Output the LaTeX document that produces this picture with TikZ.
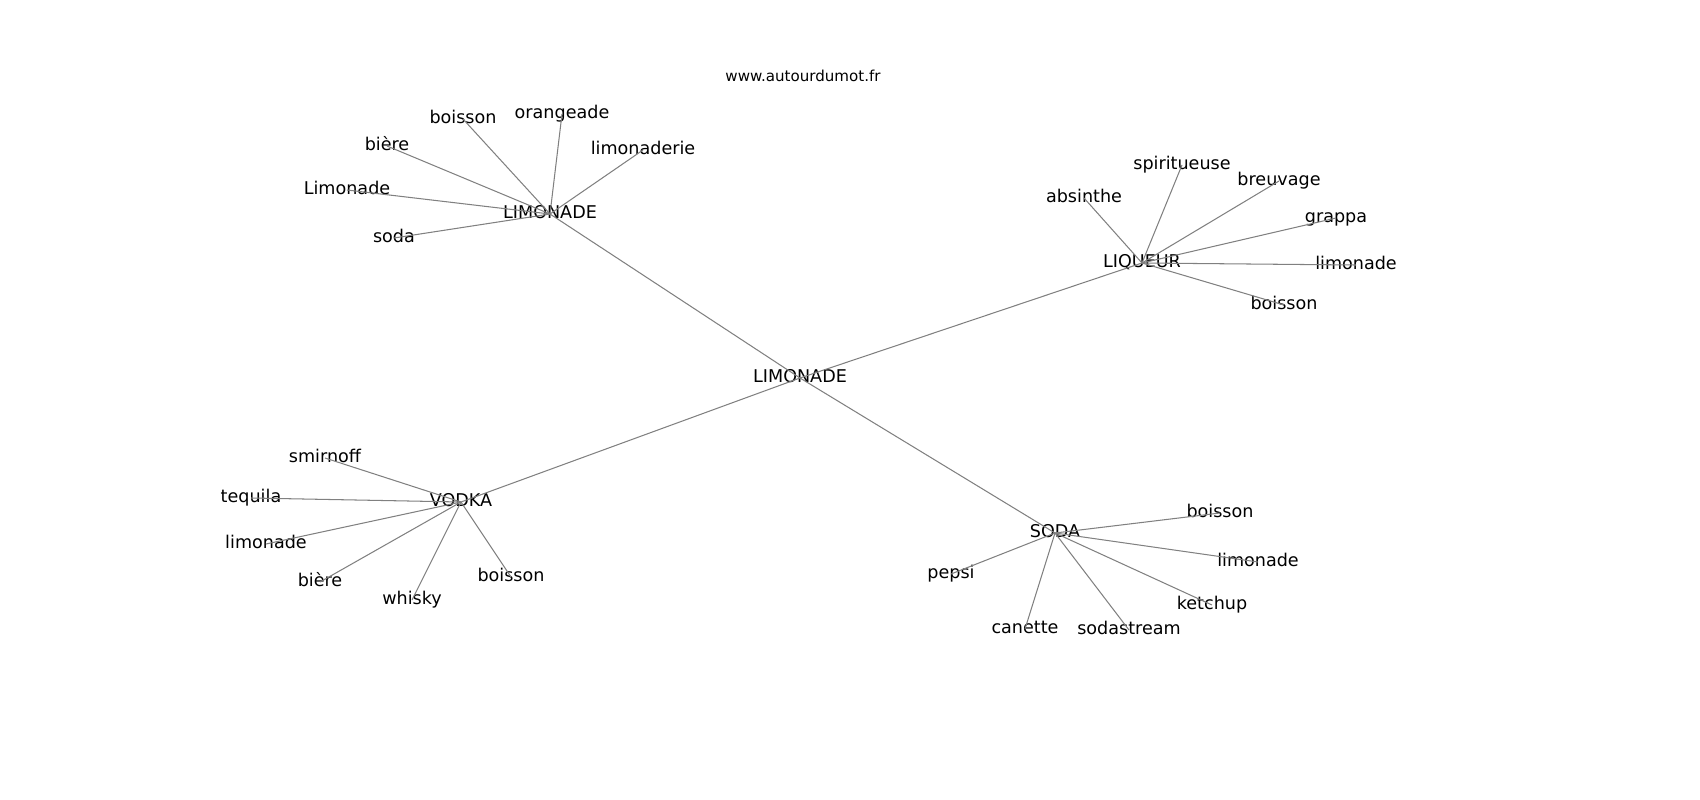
\documentclass[tikz,border=0pt]{standalone}
\usepackage{fontspec}
\setmainfont{DejaVu Sans}
\begin{document}
\begin{tikzpicture}[x=0.72bp,y=-0.72bp,
  lbl/.style={inner sep=0pt,font=\fontsize{12.7}{15}\selectfont,text height=1.5ex,text depth=0.3ex},
  ttl/.style={inner sep=0pt,font=\fontsize{10.9}{13}\selectfont},
  edge/.style={draw=black!50,line width=0.75bp}]
\useasboundingbox (0,0) rectangle (1700,800);
\node[ttl] (title) at (803,76) {www.autourdumot.fr};
% hubs
\node[lbl] (c) at (800,378) {LIMONADE};
\node[lbl] (l) at (550,214) {LIMONADE};
\node[lbl] (q) at (1142,263) {LIQUEUR};
\node[lbl] (v) at (461,502) {VODKA};
\node[lbl] (s) at (1055,533) {SODA};
% top cluster
\node[lbl] (l1) at (463,119) {boisson};
\node[lbl] (l2) at (562,114) {orangeade};
\node[lbl] (l3) at (643,150) {limonaderie};
\node[lbl] (l4) at (387,146) {bière};
\node[lbl] (l5) at (347,190) {Limonade};
\node[lbl] (l6) at (394,238) {soda};
% liqueur cluster
\node[lbl] (q1) at (1084,198) {absinthe};
\node[lbl] (q2) at (1182,165) {spiritueuse};
\node[lbl] (q3) at (1279,181) {breuvage};
\node[lbl] (q4) at (1336,218) {grappa};
\node[lbl] (q5) at (1356,265) {limonade};
\node[lbl] (q6) at (1284,305) {boisson};
% vodka cluster
\node[lbl] (v1) at (325,458) {smirnoff};
\node[lbl] (v2) at (251,498) {tequila};
\node[lbl] (v3) at (266,544) {limonade};
\node[lbl] (v4) at (320,582) {bière};
\node[lbl] (v5) at (412,600) {whisky};
\node[lbl] (v6) at (511,577) {boisson};
% soda cluster
\node[lbl] (s1) at (1220,513) {boisson};
\node[lbl] (s2) at (1258,562) {limonade};
\node[lbl] (s3) at (1212,605) {ketchup};
\node[lbl] (s4) at (1129,630) {sodastream};
\node[lbl] (s5) at (1025,629) {canette};
\node[lbl] (s6) at (951,574) {pepsi};
\begin{scope}[on background layer/.style={}]
\foreach \a/\b in {c/l,c/q,c/v,c/s,
  l/l1,l/l2,l/l3,l/l4,l/l5,l/l6,
  q/q1,q/q2,q/q3,q/q4,q/q5,q/q6,
  v/v1,v/v2,v/v3,v/v4,v/v5,v/v6,
  s/s1,s/s2,s/s3,s/s4,s/s5,s/s6}
  \draw[edge] (\a.center) -- (\b.center);
\end{scope}
\end{tikzpicture}
\end{document}
